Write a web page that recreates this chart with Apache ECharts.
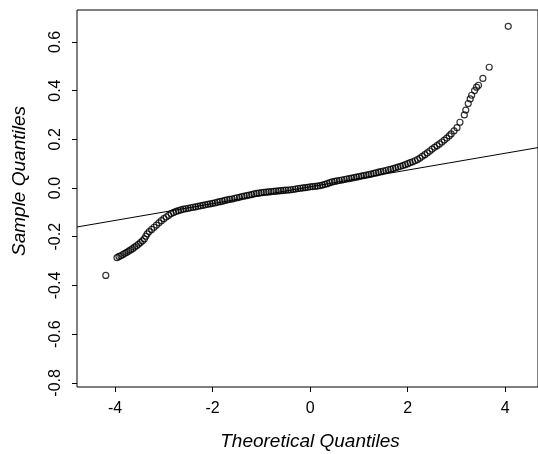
<!DOCTYPE html>
<html>
<head>
<meta charset="utf-8">
<script src="https://cdn.jsdelivr.net/npm/echarts@6/dist/echarts.min.js"></script>
<style>
html,body{margin:0;padding:0;background:#fff;}
#c{width:538px;height:454px;}
</style>
</head>
<body>
<div id="c"></div>
<script>
// Theoretical quantiles (x) and sample quantiles (y)
var qqX = [-4.19,-3.96,-3.92,-3.88,-3.84,-3.80,-3.76,-3.72,-3.68,-3.64,-3.60,-3.56,-3.52,-3.48,-3.44,-3.40,-3.37,-3.34,-3.30,-3.25,-3.20,-3.15,-3.10,-3.05,-3.00,-2.95,-2.90,-2.85,-2.80,-2.75,-2.70,-2.65,-2.60,-2.55,-2.50,-2.45,-2.40,-2.35,-2.30,-2.25,-2.20,-2.15,-2.10,-2.05,-2.00,-1.95,-1.90,-1.85,-1.80,-1.75,-1.70,-1.65,-1.60,-1.55,-1.50,-1.45,-1.40,-1.35,-1.30,-1.25,-1.20,-1.15,-1.10,-1.05,-1.00,-0.95,-0.90,-0.85,-0.80,-0.75,-0.70,-0.65,-0.60,-0.55,-0.50,-0.45,-0.40,-0.35,-0.30,-0.25,-0.20,-0.15,-0.10,-0.05,0.00,0.05,0.10,0.15,0.20,0.25,0.30,0.35,0.40,0.45,0.50,0.55,0.60,0.65,0.70,0.75,0.80,0.85,0.90,0.95,1.00,1.05,1.10,1.15,1.20,1.25,1.30,1.35,1.40,1.45,1.50,1.55,1.60,1.65,1.70,1.75,1.80,1.85,1.90,1.95,2.00,2.05,2.10,2.15,2.20,2.25,2.30,2.35,2.40,2.45,2.50,2.55,2.60,2.65,2.70,2.75,2.80,2.85,2.89,2.95,3.01,3.07,3.16,3.19,3.24,3.28,3.31,3.37,3.41,3.45,3.54,3.67,4.06];
var qqY = [-0.359,-0.286,-0.281,-0.278,-0.273,-0.268,-0.264,-0.259,-0.254,-0.249,-0.243,-0.237,-0.231,-0.224,-0.217,-0.209,-0.198,-0.188,-0.179,-0.170,-0.161,-0.152,-0.143,-0.134,-0.126,-0.119,-0.112,-0.105,-0.100,-0.096,-0.093,-0.090,-0.087,-0.085,-0.083,-0.081,-0.079,-0.077,-0.075,-0.073,-0.071,-0.069,-0.067,-0.065,-0.063,-0.061,-0.058,-0.056,-0.054,-0.051,-0.049,-0.047,-0.045,-0.042,-0.040,-0.038,-0.035,-0.033,-0.031,-0.029,-0.027,-0.024,-0.022,-0.021,-0.019,-0.018,-0.017,-0.016,-0.015,-0.014,-0.013,-0.012,-0.011,-0.010,-0.009,-0.008,-0.007,-0.006,-0.004,-0.002,-0.001,0.001,0.002,0.003,0.005,0.006,0.007,0.008,0.010,0.012,0.015,0.018,0.022,0.025,0.027,0.029,0.031,0.033,0.035,0.037,0.039,0.041,0.043,0.045,0.047,0.049,0.051,0.053,0.055,0.057,0.060,0.062,0.065,0.067,0.070,0.072,0.075,0.077,0.080,0.083,0.086,0.089,0.092,0.096,0.100,0.104,0.108,0.112,0.117,0.123,0.130,0.137,0.144,0.152,0.160,0.167,0.174,0.181,0.189,0.197,0.205,0.214,0.222,0.235,0.248,0.270,0.300,0.320,0.347,0.366,0.381,0.400,0.414,0.422,0.450,0.496,0.664];

// Reference line endpoints (qqline)
var lineX = [-4.78, 4.67];
var lineY = [-0.160, 0.166];

// Tick values
var xTicks = [-4, -2, 0, 2, 4];
var yTicks = [-0.8, -0.6, -0.4, -0.2, 0, 0.2, 0.4, 0.6];

var xTitle = 'Theoretical Quantiles';
var yTitle = 'Sample Quantiles';

var pts = qqX.map(function (x, i) { return [x, qqY[i]]; });
var linePts = lineX.map(function (x, i) { return [x, lineY[i]]; });

var font = 'Liberation Sans, Arial, Helvetica, sans-serif';
var chart = echarts.init(document.getElementById('c'), null, {renderer: 'canvas'});
chart.setOption({
  animation: false,
  backgroundColor: '#fff',
  grid: {
    left: 77, top: 10, right: -2, bottom: 67,
    show: true, borderColor: '#000', borderWidth: 1, backgroundColor: 'transparent'
  },
  xAxis: {
    type: 'value', min: -4.78, max: 4.67,
    splitLine: {show: false},
    axisLine: {show: false, onZero: false},
    axisTick: {show: true, inside: false, length: 5, customValues: xTicks, lineStyle: {color: '#000'}},
    axisLabel: {customValues: xTicks, margin: 14, color: '#000', fontSize: 16, fontFamily: font,
      formatter: function (v) { return String(v); }}
  },
  yAxis: {
    type: 'value', min: -0.817, max: 0.731,
    splitLine: {show: false},
    axisLine: {show: false, onZero: false},
    axisTick: {show: true, inside: false, length: 5, customValues: yTicks, lineStyle: {color: '#000'}},
    axisLabel: {customValues: yTicks, rotate: 90, margin: 13, color: '#000', fontSize: 16, fontFamily: font,
      formatter: function (v) { return v.toFixed(1); }}
  },
  graphic: [
    {type: 'text', x: 310, y: 442, style: {text: xTitle, fontSize: 19, fontStyle: 'italic', fontFamily: font,
      fill: '#000', textAlign: 'center', textVerticalAlign: 'middle'}},
    {type: 'text', x: 20, y: 181, rotation: Math.PI / 2, style: {text: yTitle, fontSize: 19, fontStyle: 'italic', fontFamily: font,
      fill: '#000', textAlign: 'center', textVerticalAlign: 'middle'}}
  ],
  series: [
    {
      type: 'line', data: linePts, symbol: 'none', clip: true,
      lineStyle: {color: '#000', width: 1}, z: 2
    },
    {
      type: 'scatter', data: pts, symbol: 'circle', symbolSize: 6,
      itemStyle: {color: 'rgba(0,0,0,0)', borderColor: '#000', borderWidth: 1.2}, z: 3
    }
  ]
});
</script>
</body>
</html>
